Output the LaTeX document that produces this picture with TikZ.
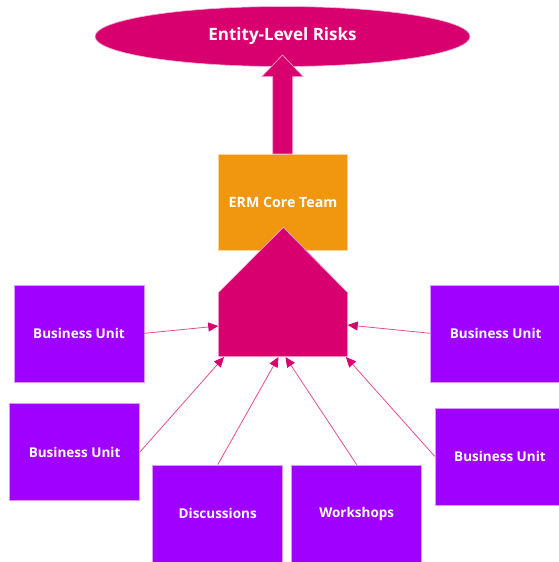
\documentclass[tikz,border=0pt]{standalone}
\usepackage{fontspec}
\setmainfont{Open Sans}
\usetikzlibrary{arrows.meta,shapes.geometric}
\definecolor{mag}{HTML}{D8006F}
\definecolor{vio}{HTML}{A000FF}
\definecolor{org}{HTML}{F0960F}
\definecolor{lnk}{HTML}{E84D8F}
\tikzset{
  unit/.style={rectangle, fill=vio, draw=vio!40, line width=0.6pt,
    minimum width=130pt, minimum height=97pt, inner sep=0pt,
    text=white, font=\bfseries\fontsize{13.5}{16}\selectfont},
  feed/.style={draw=lnk, line width=0.8pt,
    -{Triangle[length=10pt,width=9pt,fill=mag,color=mag]}},
}
\begin{document}
\begin{tikzpicture}[x=1pt,y=-1pt]
\useasboundingbox (0,0) rectangle (559,562);

% top goal
\node (risks) [ellipse, fill=mag, draw=mag!30, line width=0.6pt,
  minimum width=375pt, minimum height=60pt, inner sep=0pt,
  text=white, font=\bfseries\fontsize{17}{20}\selectfont]
  at (282.5,36.5) {Entity-Level Risks};

% ERM core team
\node (core) [rectangle, fill=org, draw=org!40, line width=0.6pt,
  minimum width=129.5pt, minimum height=96.5pt, inner sep=0pt,
  text=white, font=\bfseries\fontsize{14.2}{17}\selectfont]
  at (283,202.3) {ERM Core Team};

% block arrow from the core team up to the ellipse
\fill[mag, draw=mag!30, line width=0.6pt]
  (272.7,154) -- (272.7,76.7) -- (261.7,76.7) -- (282.5,55)
  -- (303.3,76.7) -- (292.7,76.7) -- (292.7,154) -- cycle;

% pentagon collecting the inputs
\fill[mag, draw=mag!30, line width=0.6pt]
  (218.3,356.7) -- (218.3,292.7) -- (283.3,227.3) -- (347.7,292.7)
  -- (347.7,356.7) -- cycle;
\coordinate (pL)  at (218.3,326);
\coordinate (pR)  at (347.7,325);
\coordinate (pB1) at (224,357);
\coordinate (pB2) at (278.5,357);
\coordinate (pB3) at (285.5,357);
\coordinate (pB4) at (346,357);

% input boxes
\node (bu1) [unit] at (79,333.3) {Business Unit};
\node (bu2) [unit] at (74.6,452) {Business Unit};
\node (bu3) [unit] at (495.7,333.3) {Business Unit};
\node (bu4) [unit] at (500,456.3) {Business Unit};
\node (disc) [unit] at (217.7,513.5) {Discussions};
\node (work) [unit] at (356.7,513.5) {Workshops};

% connectors
\draw[feed] (bu1.east) -- (pL);
\draw[feed] (bu2.east) -- (pB1);
\draw[feed] (disc.north) -- (pB2);
\draw[feed] (work.north) -- (pB3);
\draw[feed] (bu4.west) -- (pB4);
\draw[feed] (bu3.west) -- (pR);
\end{tikzpicture}
\end{document}
